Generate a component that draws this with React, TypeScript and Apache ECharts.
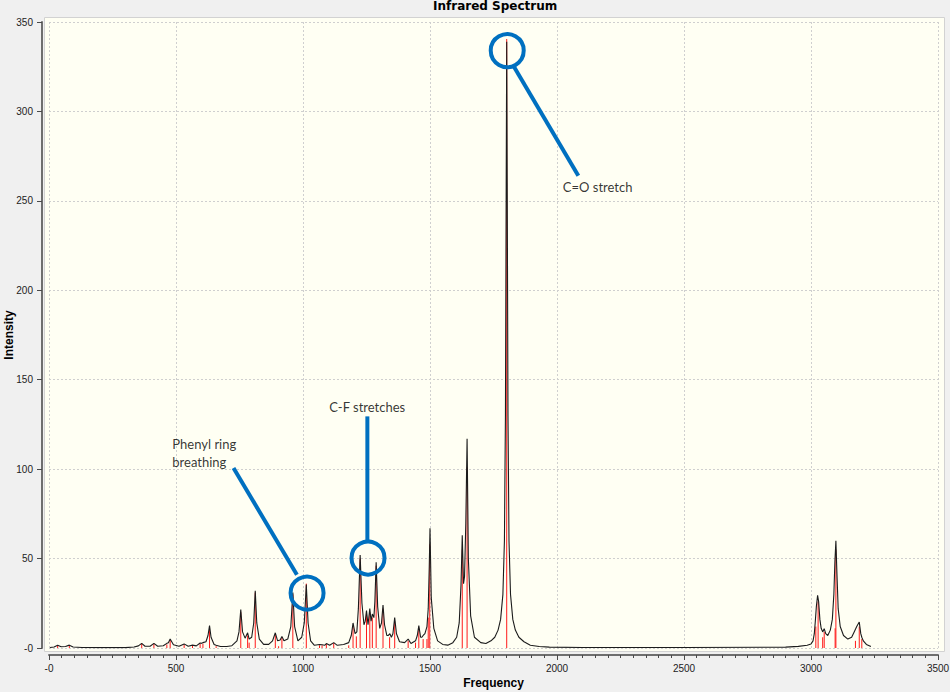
import { useEffect, useRef } from "react";
import * as echarts from "echarts";

// broadened spectrum as [frequency, intensity]
const spectrumCurve: [number, number][] = [
  [4, 0.3], [20, 0.6], [34, 1.5], [48, 0.7], [65, 0.8], [80, 1.6], [95, 0.6], [130, 0.3],
  [200, 0.2], [300, 0.2], [335, 0.6], [352, 1.2], [365, 2.6], [378, 1.0], [398, 1.0],
  [413, 2.6], [428, 1.0], [450, 1.3], [464, 2.6], [470, 3.0], [477, 5.0], [490, 1.8],
  [512, 1.0], [532, 2.3], [548, 1.0], [565, 1.6], [580, 1.2], [595, 2.8], [600, 2.6],
  [606, 3.0], [618, 3.5], [626, 7], [632, 12.5], [638, 6], [650, 2], [658, 1.5], [675, 0.8],
  [700, 0.8], [720, 1.3], [740, 4], [748, 9], [755, 21.5], [762, 9], [772, 5.5], [782, 8.5],
  [788, 5], [798, 6], [806, 14], [812, 32], [818, 14], [828, 5], [845, 2], [865, 2], [880, 4],
  [891, 8.5], [900, 4], [910, 4.5], [917, 6.5], [925, 4], [940, 5], [952, 12], [960, 31],
  [967, 12], [980, 4], [995, 6], [1005, 14], [1013, 35.5], [1020, 14], [1030, 4], [1045, 1.5],
  [1065, 2], [1075, 1.8], [1085, 1.5], [1092, 2.5], [1105, 1.5], [1121, 3], [1135, 1.5],
  [1160, 2], [1180, 3], [1190, 7], [1197, 14], [1205, 8], [1212, 9], [1218, 22], [1225, 52],
  [1232, 25], [1240, 13], [1245, 15], [1250, 21], [1256, 13], [1263, 22], [1268, 15],
  [1273, 19], [1279, 17], [1283, 26], [1288, 48], [1294, 23], [1302, 11], [1309, 14],
  [1315, 24], [1321, 13], [1330, 7], [1336, 7], [1342, 8], [1348, 6], [1354, 8], [1361, 17],
  [1368, 8], [1380, 3.5], [1400, 3], [1414, 5], [1425, 2.5], [1443, 4], [1450, 7],
  [1456, 12.5], [1463, 6], [1468, 6], [1473, 7], [1480, 8], [1488, 12], [1493, 22],
  [1497, 45], [1500, 67], [1505, 28], [1515, 11], [1530, 4], [1550, 2], [1570, 1.6],
  [1590, 3], [1605, 6], [1615, 14], [1622, 35], [1627, 63], [1632, 36], [1636, 40],
  [1641, 70], [1646, 117], [1651, 50], [1660, 18], [1675, 6], [1700, 3], [1720, 2.5],
  [1740, 4], [1755, 6], [1768, 10], [1778, 16], [1787, 30], [1793, 60], [1797, 130],
  [1800, 260], [1802, 339], [1804, 260], [1807, 130], [1811, 60], [1817, 30], [1826, 16],
  [1836, 10], [1850, 6], [1870, 3.5], [1895, 1.5], [1930, 0.8], [1970, 0.5], [2100, 0.3],
  [2500, 0.3], [2900, 0.5], [2950, 0.9], [2985, 1.5], [3000, 2.2], [3008, 4], [3013, 8],
  [3017, 15], [3021, 23], [3026, 29.4], [3030, 26], [3035, 16], [3040, 11], [3046, 9],
  [3052, 10.8], [3058, 8], [3066, 7], [3076, 10], [3084, 16], [3090, 30], [3094, 48],
  [3098, 60], [3102, 42], [3107, 22], [3115, 12], [3128, 7], [3145, 5], [3160, 6], [3170, 9],
  [3180, 12], [3190, 14.5], [3196, 8], [3200, 6], [3206, 4], [3218, 2], [3236, 0.8],
];

// computed normal modes (red sticks) as [frequency, intensity]
const modeSticks: [number, number][] = [
  [34, 1.3], [80, 1.4], [152, 0.5], [280, 0.5], [365, 2.4], [413, 2.4], [464, 2.0],
  [477, 4.5], [532, 2.0], [565, 1.3], [595, 2.2], [606, 2.4], [632, 11.5], [658, 1.0],
  [755, 20], [782, 7], [788, 3], [812, 31], [891, 7.5], [904, 1.0], [917, 6], [960, 30],
  [1013, 36], [1065, 1.5], [1075, 1.5], [1092, 2.2], [1121, 2.8], [1180, 1.5], [1197, 12],
  [1210, 6.5], [1225, 50], [1250, 19], [1263, 20], [1273, 17], [1288, 46], [1315, 22],
  [1341, 6], [1361, 15], [1414, 4], [1443, 3], [1456, 11], [1473, 5], [1488, 5], [1493, 17],
  [1499, 58], [1627, 55], [1646, 101], [1802, 340.5], [3019, 12], [3028, 26], [3046, 6],
  [3052, 9], [3095, 11], [3098, 55], [3175, 4], [3190, 12], [3200, 5],
];

// annotations, anchored in data space
const circleCenters: [number, number][] = [[1804, 334], [1256, 50.3], [1016, 30.7]];
const leaderLines: [number, number][][] = [
  [[1830, 325.1], [2084, 264]],
  [[1253.4, 129.5], [1253.4, 60]],
  [[726.5, 100.6], [976, 41]],
];
const noteLabels: { text: string; at: [number, number] }[] = [
  { text: "C=O stretch", at: [2021, 257.8] },
  { text: "C-F stretches", at: [1101, 135] },
  { text: "Phenyl ring", at: [483.5, 114.3] },
  { text: "breathing", at: [483.5, 103.9] },
];

const xTicks = { min: 0, max: 3500, step: 500 };
const yTicks = { min: 0, max: 350, step: 50 };

const zeroDash = (v: number) => (v === 0 ? "-0" : String(v));
const BLUE = "#0070C0";

export default function App() {
  const chartRef = useRef<HTMLDivElement>(null);

  useEffect(() => {
    if (!chartRef.current) return;
    const chart = echarts.init(chartRef.current, null, { renderer: "svg" });

    const axisCommon = {
      axisLine: { show: true, onZero: false, lineStyle: { color: "#6e6e6e", width: 2 } },
      axisTick: { show: true, length: 5, lineStyle: { color: "#4a4a4a" } },
      splitLine: { show: true, lineStyle: { color: "#cfcfcf", type: [2, 2] } },
      nameLocation: "middle" as const,
      nameMoveOverlap: false,
      nameTextStyle: { fontFamily: "Liberation Sans", fontWeight: "bold" as const, fontSize: 12, color: "#000" },
    };

    chart.setOption({
      animation: false,
      backgroundColor: "#F0F0F0",
      title: {
        text: "Infrared Spectrum",
        left: 433,
        top: 0,
        padding: 0,
        textStyle: { fontFamily: "DejaVu Sans", fontWeight: "bold", fontSize: 12, color: "#000" },
      },
      graphic: [
        {
          type: "rect",
          z: -10,
          silent: true,
          shape: { x: 44.5, y: 17.5, width: 900, height: 634 },
          style: { fill: "#FFFFF3", stroke: "#d2d2d2", lineWidth: 1 },
        },
      ],
      grid: { left: 49, right: 12, top: 22, bottom: 44, outerBoundsMode: "none" },
      xAxis: {
        type: "value",
        min: xTicks.min,
        max: xTicks.max,
        interval: xTicks.step,
        offset: 7,
        name: "Frequency",
        nameGap: 22,
        ...axisCommon,
        minorTick: { show: true, splitNumber: 10, length: 3, lineStyle: { color: "#4a4a4a" } },
        axisLabel: { formatter: zeroDash, margin: 8, fontFamily: "Liberation Sans", fontSize: 10, color: "#222" },
      },
      yAxis: {
        type: "value",
        min: yTicks.min,
        max: yTicks.max,
        interval: yTicks.step,
        offset: 7,
        name: "Intensity",
        nameGap: 27,
        ...axisCommon,
        axisLabel: { formatter: zeroDash, margin: 9, fontFamily: "Liberation Sans", fontSize: 10, color: "#222" },
      },
      series: [
        {
          type: "custom",
          z: 2,
          silent: true,
          data: modeSticks,
          encode: { x: 0, y: 1 },
          renderItem: (_params: any, api: any) => {
            const x = api.value(0);
            const p0 = api.coord([x, 0]);
            const p1 = api.coord([x, api.value(1)]);
            return {
              type: "line",
              shape: { x1: p0[0], y1: p0[1], x2: p1[0], y2: p1[1] },
              style: { stroke: "#ff1a1a", lineWidth: 1 },
            };
          },
        },
        {
          type: "line",
          z: 3,
          silent: true,
          data: spectrumCurve,
          showSymbol: false,
          symbol: "none",
          smooth: false,
          lineStyle: { color: "#1c1c1c", width: 1.1 },
        },
        ...leaderLines.map((seg) => ({
          type: "line",
          z: 5,
          silent: true,
          data: seg,
          symbol: "none",
          lineStyle: { color: BLUE, width: 4, cap: "butt" },
        })),
        {
          type: "scatter",
          z: 6,
          silent: true,
          data: circleCenters,
          symbol: "circle",
          symbolSize: 33,
          itemStyle: { color: "transparent", borderColor: BLUE, borderWidth: 4, opacity: 1 },
        },
        {
          type: "scatter",
          z: 6,
          silent: true,
          symbolSize: 1,
          itemStyle: { color: "transparent" },
          data: noteLabels.map((n) => ({ value: n.at, name: n.text })),
          label: {
            show: true,
            position: "right",
            distance: 0,
            formatter: "{b}",
            fontFamily: "Lato",
            fontSize: 13,
            color: "#000",
          },
        },
      ],
    });

    return () => chart.dispose();
  }, []);

  return (
    <div
      ref={chartRef}
      style={{ position: "fixed", left: 0, top: 0, width: 950, height: 692, background: "#F0F0F0" }}
    />
  );
}
